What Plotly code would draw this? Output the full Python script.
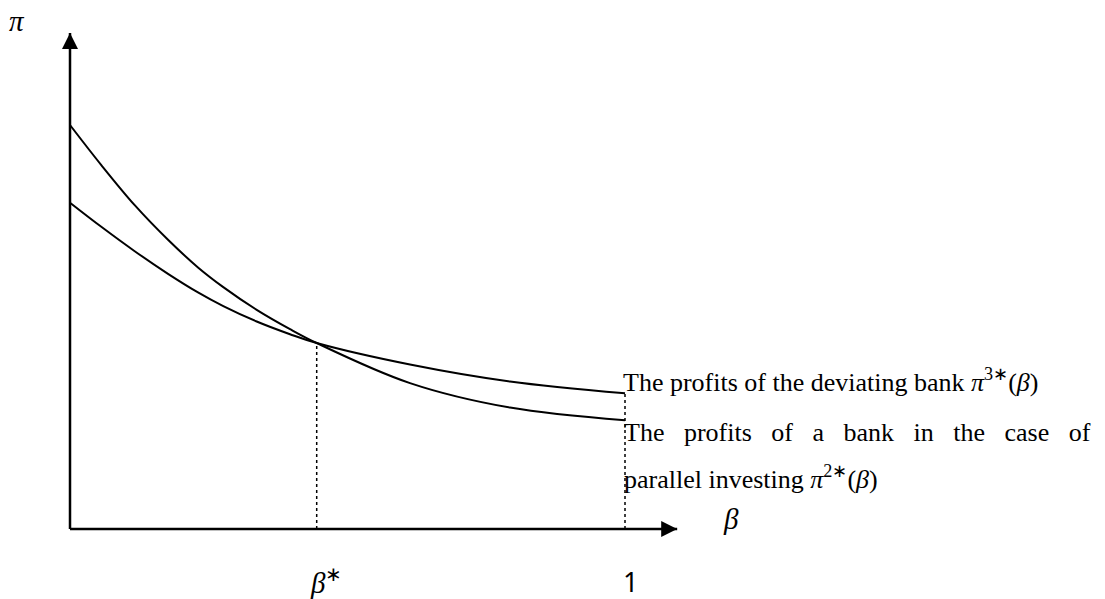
import plotly.graph_objects as go

# Data (beta on x, profit on y; arbitrary units)
beta = [0.0, 0.0564, 0.1166, 0.1766, 0.2306, 0.2762, 0.3364, 0.3964, 0.4445, 0.6126, 0.7928, 1.0]
# profits of a bank in the case of parallel investing, pi^{2*}(beta)
pi2 = [4.04, 3.639, 3.238, 2.892, 2.616, 2.419, 2.192, 1.999, 1.86, 1.459, 1.214, 1.087]
# profits of the deviating bank, pi^{3*}(beta)
pi3 = [3.263, 3.022, 2.778, 2.552, 2.366, 2.229, 2.075, 1.948, 1.86, 1.645, 1.475, 1.357]
beta_star = 0.4445
pi_star = 1.86
beta_end = 1.0
x_tip = 1.094
y_tip = 4.96

W, H = 1105, 599
# pixel mapping helpers (for placing labels only)
PX_X0, PX_PER_X = 70, 555.0
PX_Y0, PX_PER_Y = 529, 100.0
def dx(px):
    return (px - PX_X0) / PX_PER_X
def dy(py):
    return (PX_Y0 - py) / PX_PER_Y

fig = go.Figure()

black = "#000000"
# axes
fig.add_trace(go.Scatter(x=[0, x_tip], y=[0, 0], mode="lines",
                         line=dict(color=black, width=2.5), hoverinfo="skip"))
fig.add_trace(go.Scatter(x=[0, 0], y=[0, y_tip], mode="lines",
                         line=dict(color=black, width=2.5), hoverinfo="skip"))
fig.add_trace(go.Scatter(x=[x_tip], y=[0], mode="markers",
                         marker=dict(symbol="arrow-right", size=16, color=black,
                                     line=dict(width=0)), hoverinfo="skip"))
fig.add_trace(go.Scatter(x=[0], y=[y_tip], mode="markers",
                         marker=dict(symbol="arrow-up", size=16, color=black,
                                     line=dict(width=0)), hoverinfo="skip"))

# dotted guides
fig.add_trace(go.Scatter(x=[beta_star, beta_star], y=[0, pi_star], mode="lines",
                         line=dict(color=black, width=1.5, dash="dot"), hoverinfo="skip"))
fig.add_trace(go.Scatter(x=[beta_end, beta_end], y=[0, pi3[-1]], mode="lines",
                         line=dict(color=black, width=1.5, dash="dot"), hoverinfo="skip"))

# curves
fig.add_trace(go.Scatter(x=beta, y=pi2, mode="lines",
                         line=dict(color=black, width=2, shape="spline", smoothing=1.0),
                         hoverinfo="skip"))
fig.add_trace(go.Scatter(x=beta, y=pi3, mode="lines",
                         line=dict(color=black, width=2, shape="spline", smoothing=1.0),
                         hoverinfo="skip"))

serif = "Liberation Serif"
ann = []
def label(text, px, py, size=26, family=serif, xanchor="left"):
    ann.append(dict(x=dx(px), y=dy(py), xref="x", yref="y", text=text,
                    showarrow=False, xanchor=xanchor, yanchor="middle",
                    font=dict(family=family, size=size, color=black)))

label("<i>π</i>", 17, 21, size=29, xanchor="center")
label("<i>β</i>", 731, 519, size=29, xanchor="center")
label("<i>β</i><sup>∗</sup>", 326, 581, size=29, xanchor="center")
label("1", 630, 581, size=27, family="Noto Sans", xanchor="center")

nb = "\u00a0"
label("The profits of the deviating bank <i>π</i><sup>3∗</sup>(<i>β</i>)", 621, 380)
line1 = (nb * 3).join(["The", "profits", "of", "a", "bank", "in", "the", "case", "of"])
label(line1, 622, 432)
label("parallel investing <i>π</i><sup>2∗</sup>(<i>β</i>)", 622, 477)

fig.update_layout(
    width=W, height=H,
    margin=dict(l=0, r=0, t=0, b=0),
    paper_bgcolor="white", plot_bgcolor="white",
    showlegend=False,
    annotations=ann,
    xaxis=dict(range=[dx(0), dx(W)], visible=False, fixedrange=True),
    yaxis=dict(range=[dy(H), dy(0)], visible=False, fixedrange=True),
)

fig.write_html("out.html",
               config={"displayModeBar": False},
               post_script="document.body.style.margin='0';document.body.style.overflow='hidden';")
